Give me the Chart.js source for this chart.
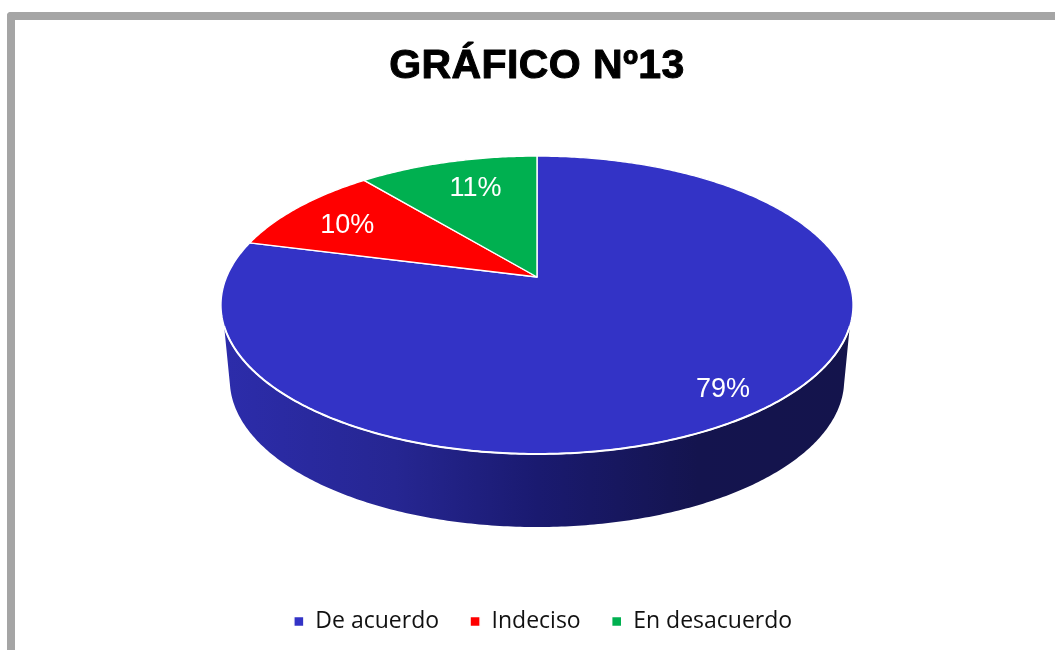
<!DOCTYPE html>
<html lang="es">
<head>
<meta charset="utf-8">
<title>GRÁFICO Nº13</title>
<script src="https://cdn.jsdelivr.net/npm/chart.js@4"></script>
<style>
html,body{margin:0;padding:0;background:#fff;width:1055px;height:650px;overflow:hidden}
#frame{position:absolute;left:7px;top:12px;width:1048px;height:638px;box-sizing:border-box;border-top:8px solid #a5a5a5;border-left:8px solid #a5a5a5;border-top-left-radius:4px}
#wrap{position:absolute;left:0;top:0;width:1055px;height:650px}
</style>
</head>
<body>
<div id="frame"></div>
<div id="wrap"><canvas id="c" width="1055" height="650"></canvas></div>
<script>
const titleText = 'GRÁFICO Nº13';
const categories = ['De acuerdo', 'Indeciso', 'En desacuerdo'];
const values = [79, 10, 11];
const sliceColors = ['#3333C6', '#FF0000', '#00B050'];

// Perspective of the tilted disc (style only)
const VIEW = {apexY: 277, s: 310.4, a: 143.7, c: -0.188,
  wallTopFromY: 325, wallBottomFromY: 384, wallScaleX: 0.972, wallScaleY: 0.987, discMidY: 305, wallMidY: 380};
const labelRadius = [0.85, 0.79, 0.76];
const labelShiftX = [1, 2, 9];
const labelShiftY = [2, 5, 2];

function project(cx, x, y) {
  const d = 1 + VIEW.c * y;
  return [cx + VIEW.s * x / d, VIEW.apexY + VIEW.a * y / d];
}
const proto = Chart.ArcElement.prototype;
proto.draw = function (ctx) {
  const o = this.options, cx = this.x;
  const a0 = this.startAngle, a1 = this.endAngle;
  const steps = Math.max(8, Math.ceil((a1 - a0) * 90));
  const rim = [];
  for (let i = 0; i <= steps; i++) {
    const t = a0 + (a1 - a0) * i / steps;
    rim.push(project(cx, Math.cos(t), Math.sin(t)));
  }
  // side wall
  const top = rim.filter(p => p[1] >= VIEW.wallTopFromY);
  const bottom = rim
    .map(p => [cx + (p[0] - cx) * VIEW.wallScaleX, VIEW.wallMidY + (p[1] - VIEW.discMidY) * VIEW.wallScaleY])
    .filter(p => p[1] >= VIEW.wallBottomFromY);
  ctx.save();
  if (top.length && bottom.length) {
    const g = ctx.createLinearGradient(cx - 310, 0, cx + 310, 0);
    g.addColorStop(0, '#2C2CAA');
    g.addColorStop(0.27, '#262692');
    g.addColorStop(0.5, '#1A1A70');
    g.addColorStop(0.76, '#14144E');
    g.addColorStop(1, '#14144C');
    ctx.beginPath();
    top.forEach((p, i) => i ? ctx.lineTo(p[0], p[1]) : ctx.moveTo(p[0], p[1]));
    bottom.slice().reverse().forEach(p => ctx.lineTo(p[0], p[1]));
    ctx.closePath();
    ctx.fillStyle = g;
    ctx.fill();
  }
  // top face
  ctx.beginPath();
  ctx.moveTo(cx, VIEW.apexY);
  rim.forEach(p => ctx.lineTo(p[0], p[1]));
  ctx.closePath();
  ctx.fillStyle = o.backgroundColor;
  ctx.fill();
  ctx.lineJoin = 'round';
  ctx.lineWidth = o.borderWidth;
  ctx.strokeStyle = o.borderColor;
  ctx.stroke();
  // brighter lip where the top face meets the wall
  if (top.length) {
    ctx.beginPath();
    top.forEach((p, i) => i ? ctx.lineTo(p[0], p[1]) : ctx.moveTo(p[0], p[1]));
    ctx.lineWidth = 2;
    ctx.stroke();
  }
  ctx.restore();
};

const discLabels = {
  id: 'discLabels',
  afterDatasetsDraw(chart) {
    const ctx = chart.ctx;
    ctx.save();
    ctx.font = '27px "Liberation Sans"';
    ctx.fillStyle = '#fff';
    ctx.textAlign = 'center';
    ctx.textBaseline = 'middle';
    chart.getDatasetMeta(0).data.forEach((arc, i) => {
      const m = (arc.startAngle + arc.endAngle) / 2, r = labelRadius[i];
      const p = project(arc.x, r * Math.cos(m), r * Math.sin(m));
      ctx.fillText(values[i] + '%', p[0] + labelShiftX[i], p[1] + labelShiftY[i]);
    });
    ctx.restore();
  }
};
const TITLE_TRACKING = '0.4px';
const heavyTitle = {
  id: 'heavyTitle',
  afterLayout(chart) {
    // nudge the legend to its place in the reference
    const l = chart.legend;
    l.left += 6; l.right += 6; l.top -= 7; l.bottom -= 7;
    const b = chart.titleBlock;
    if (!b._tracked) {
      const d = b.draw;
      b.draw = function () {
        const ctx = chart.ctx;
        ctx.save();
        ctx.letterSpacing = TITLE_TRACKING;
        d.call(this);
        ctx.restore();
      };
      b._tracked = true;
    }
  },
  afterDraw(chart) {
    const b = chart.titleBlock, ctx = chart.ctx;
    ctx.save();
    ctx.font = 'bold 41px "Liberation Sans"';
    ctx.letterSpacing = TITLE_TRACKING;
    ctx.textAlign = 'center';
    ctx.textBaseline = 'middle';
    ctx.strokeStyle = '#000';
    ctx.lineWidth = 1;
    ctx.lineJoin = 'round';
    ctx.strokeText(titleText, (b.left + b.right) / 2, (b.top + b.bottom) / 2);
    ctx.restore();
  }
};

new Chart(document.getElementById('c'), {
  type: 'pie',
  data: {
    labels: categories,
    datasets: [{data: values, backgroundColor: sliceColors, borderColor: '#FFFFFF', borderWidth: 1.4}]
  },
  options: {
    responsive: false,
    animation: false,
    layout: {padding: {left: 19, top: 42, bottom: 0}},
    plugins: {
      tooltip: {enabled: false},
      title: {display: true, text: titleText, color: '#000', padding: 0,
        font: {family: '"Liberation Sans"', size: 41, weight: 'bold', lineHeight: 1.2}},
      legend: {position: 'bottom',
        labels: {usePointStyle: true, pointStyle: 'rect', pointStyleWidth: 10, boxHeight: 10, boxWidth: 10,
          padding: 31, color: '#111', font: {family: '"Open Sans"', size: 23}}}
    }
  },
  plugins: [discLabels, heavyTitle]
});
</script>
</body>
</html>
